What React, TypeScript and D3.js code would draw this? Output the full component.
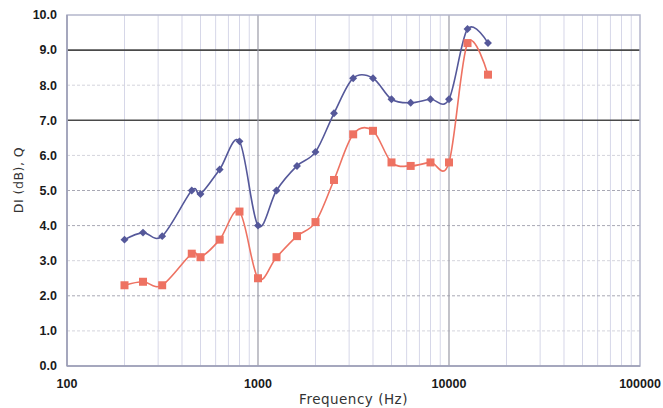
import React from "react";
import * as d3 from "d3";

const freqs = [200, 250, 315, 450, 500, 630, 800, 1000, 1250, 1600, 2000, 2500, 3150, 4000, 5000, 6300, 8000, 10000, 12500, 16000];
const diValues = [3.6, 3.8, 3.7, 5.0, 4.9, 5.6, 6.4, 4.0, 5.0, 5.7, 6.1, 7.2, 8.2, 8.2, 7.6, 7.5, 7.6, 7.6, 9.6, 9.2];
const qValues = [2.3, 2.4, 2.3, 3.2, 3.1, 3.6, 4.4, 2.5, 3.1, 3.7, 4.1, 5.3, 6.6, 6.7, 5.8, 5.7, 5.8, 5.8, 9.2, 8.3];
const yTicks = [0, 1, 2, 3, 4, 5, 6, 7, 8, 9, 10];
const xTickLabels = [100, 1000, 10000, 100000];
const darkY = [7, 9];
const midY = [2, 4, 5];

const W = 663, H = 408;
const L = 67, R = 640, T = 15, B = 366;

export default function App() {
  const x = d3.scaleLog().domain([100, 100000]).range([L, R]);
  const y = d3.scaleLinear().domain([0, 10]).range([B, T]);

  const minor: number[] = [];
  for (let d = 100; d < 100000; d *= 10) {
    for (let k = 2; k <= 9; k++) minor.push(d * k);
  }

  const line = d3
    .line<[number, number]>()
    .x((d) => x(d[0]))
    .y((d) => y(d[1]))
    .curve(d3.curveCardinal.tension(0));

  const blue = "#55589a";
  const red = "#ee7262";
  const diPts = freqs.map((f, i) => [f, diValues[i]] as [number, number]);
  const qPts = freqs.map((f, i) => [f, qValues[i]] as [number, number]);

  const tickFont = "'Liberation Sans', Arial, sans-serif";
  const titleFont = "'DejaVu Sans', 'Noto Sans', sans-serif";

  return (
    <svg width={W} height={H} style={{ position: "absolute", left: 0, top: 0, background: "#fff" }}>
      <rect x={0} y={0} width={W} height={H} fill="#fff" />
      {/* minor vertical grid */}
      {minor.map((m) => (
        <line key={"m" + m} x1={x(m)} x2={x(m)} y1={T} y2={B} stroke="#d6d7e8" strokeWidth={1} />
      ))}
      {/* horizontal grid */}
      {yTicks.filter((t) => t > 0 && t < 10).map((t) => {
        const dark = darkY.includes(t);
        const mid = midY.includes(t);
        return (
          <line
            key={"h" + t}
            x1={L}
            x2={R}
            y1={y(t)}
            y2={y(t)}
            stroke={dark ? "#4a4a4a" : mid ? "#a8a8b4" : "#d4d4dc"}
            strokeWidth={dark ? 1.6 : 1}
            strokeDasharray={dark ? undefined : "3 2"}
          />
        );
      })}
      {/* major vertical grid */}
      {[1000, 10000].map((v) => (
        <line key={"v" + v} x1={x(v)} x2={x(v)} y1={T} y2={B} stroke="#9a9aa6" strokeWidth={1.2} />
      ))}
      {/* frame */}
      <rect x={L} y={T} width={R - L} height={B - T} fill="none" stroke="#b4b6cc" strokeWidth={1.5} />
      <line x1={L} x2={R} y1={B} y2={B} stroke="#9a9cb4" strokeWidth={1.5} />
      <line x1={L} x2={L} y1={T} y2={B} stroke="#9a9cb4" strokeWidth={1.5} />

      {/* series */}
      <path d={line(diPts) || ""} fill="none" stroke={blue} strokeWidth={1.6} />
      <path d={line(qPts) || ""} fill="none" stroke={red} strokeWidth={1.6} />
      {diPts.map((p, i) => (
        <path
          key={"d" + i}
          d={d3.symbol().type(d3.symbolDiamond2).size(40)() || ""}
          transform={`translate(${x(p[0])},${y(p[1])})`}
          fill={blue}
        />
      ))}
      {qPts.map((p, i) => (
        <rect key={"q" + i} x={x(p[0]) - 4} y={y(p[1]) - 4} width={8} height={8} fill={red} />
      ))}

      {/* y tick labels */}
      {yTicks.map((t) => (
        <text
          key={"yt" + t}
          x={57}
          y={y(t)}
          dy="0.35em"
          textAnchor="end"
          fontFamily={tickFont}
          fontWeight="bold"
          fontSize={12.5}
          fill="#1a1a1a"
        >
          {t.toFixed(1)}
        </text>
      ))}
      {/* x tick labels */}
      {xTickLabels.map((t) => (
        <text
          key={"xt" + t}
          x={x(t)}
          y={384}
          dy="0.35em"
          textAnchor="middle"
          fontFamily={tickFont}
          fontWeight="bold"
          fontSize={12.5}
          fill="#1a1a1a"
        >
          {t}
        </text>
      ))}
      {/* axis titles */}
      <text
        x={(L + R) / 2}
        y={404}
        textAnchor="middle"
        fontFamily={titleFont}
        fontSize={13.5}
        letterSpacing={0.5}
        fill="#333"
      >
        Frequency (Hz)
      </text>
      <text
        transform={`translate(23,180) rotate(-90)`}
        textAnchor="middle"
        fontFamily={titleFont}
        fontSize={12.5}
        letterSpacing={0.5}
        fill="#333"
      >
        DI (dB), Q
      </text>
    </svg>
  );
}
